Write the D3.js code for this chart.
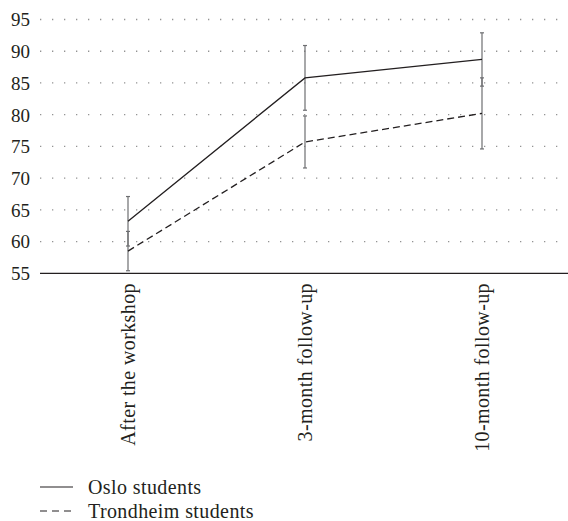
<!DOCTYPE html>
<html><head><meta charset="utf-8">
<script src="https://cdn.jsdelivr.net/npm/d3@7"></script>
<style>body{margin:0;background:#fff}svg{display:block}text{font-family:"Liberation Serif","DejaVu Serif",serif;fill:#231f20}</style>
</head><body>
<script>
const categories = ["After the workshop", "3-month follow-up", "10-month follow-up"];
const osloMean = [63.2, 85.8, 88.7];
const osloErr = [3.9, 5.1, 4.2];
const trondMean = [58.5, 75.7, 80.2];
const trondErr = [3.1, 4.1, 5.6];
const yTicks = [55, 60, 65, 70, 75, 80, 85, 90, 95];
const seriesNames = ["Oslo students", "Trondheim students"];

const W = 568, H = 521;
const svg = d3.select("body").append("svg").attr("width", W).attr("height", H);
const x = d3.scalePoint().domain(categories).range([128, 482]);
const y = d3.scaleLinear().domain([55, 95]).range([273.3, 19.5]);

// grid
svg.append("g").selectAll("line").data(yTicks.filter(d => d > 55)).join("line")
  .attr("x1", 40).attr("x2", 562).attr("y1", d => y(d)).attr("y2", d => y(d))
  .attr("stroke", "#939393").attr("stroke-width", 1.3).attr("stroke-dasharray", "1.3,10.7");

// y labels
svg.append("g").selectAll("text").data(yTicks).join("text")
  .attr("x", 30).attr("y", d => y(d)).attr("dy", "0.36em").attr("text-anchor", "end")
  .attr("font-size", 19).text(d => d);

// x axis line
svg.append("line").attr("x1", 40).attr("x2", 568).attr("y1", y(55)).attr("y2", y(55))
  .attr("stroke", "#231f20").attr("stroke-width", 1.3);

// x labels
svg.append("g").selectAll("text").data(categories).join("text")
  .attr("transform", d => `translate(${x(d)},283) rotate(-90)`)
  .attr("dy", "0.34em").attr("text-anchor", "end").attr("font-size", 20)
  .attr("letter-spacing", 0.4).text(d => d);

function errBars(means, errs) {
  const g = svg.append("g").attr("stroke", "#6d6e71").attr("stroke-width", 1.2);
  categories.forEach((c, i) => {
    const cx = x(c), t = y(means[i] + errs[i]), b = y(means[i] - errs[i]);
    g.append("line").attr("x1", cx).attr("x2", cx).attr("y1", t).attr("y2", b);
    g.append("line").attr("x1", cx - 2).attr("x2", cx + 2).attr("y1", t).attr("y2", t);
    g.append("line").attr("x1", cx - 2).attr("x2", cx + 2).attr("y1", b).attr("y2", b);
  });
}
errBars(osloMean, osloErr);
errBars(trondMean, trondErr);

const line = d3.line().x((d, i) => x(categories[i])).y(d => y(d));
svg.append("path").datum(osloMean).attr("d", line).attr("fill", "none")
  .attr("stroke", "#231f20").attr("stroke-width", 1.3);
svg.append("path").datum(trondMean).attr("d", line).attr("fill", "none")
  .attr("stroke", "#231f20").attr("stroke-width", 1.3).attr("stroke-dasharray", "7,4");

// legend
const lg = svg.append("g");
seriesNames.forEach((s, i) => {
  const ly = 487 + i * 24;
  lg.append("line").attr("x1", 40).attr("x2", 73).attr("y1", ly).attr("y2", ly)
    .attr("stroke", "#231f20").attr("stroke-width", 1.2)
    .attr("stroke-dasharray", i === 1 ? "7,5" : null);
  lg.append("text").attr("x", 88).attr("y", ly).attr("dy", "0.33em").attr("font-size", 20)
    .attr("letter-spacing", 0.4).text(s);
});
</script>
</body></html>
